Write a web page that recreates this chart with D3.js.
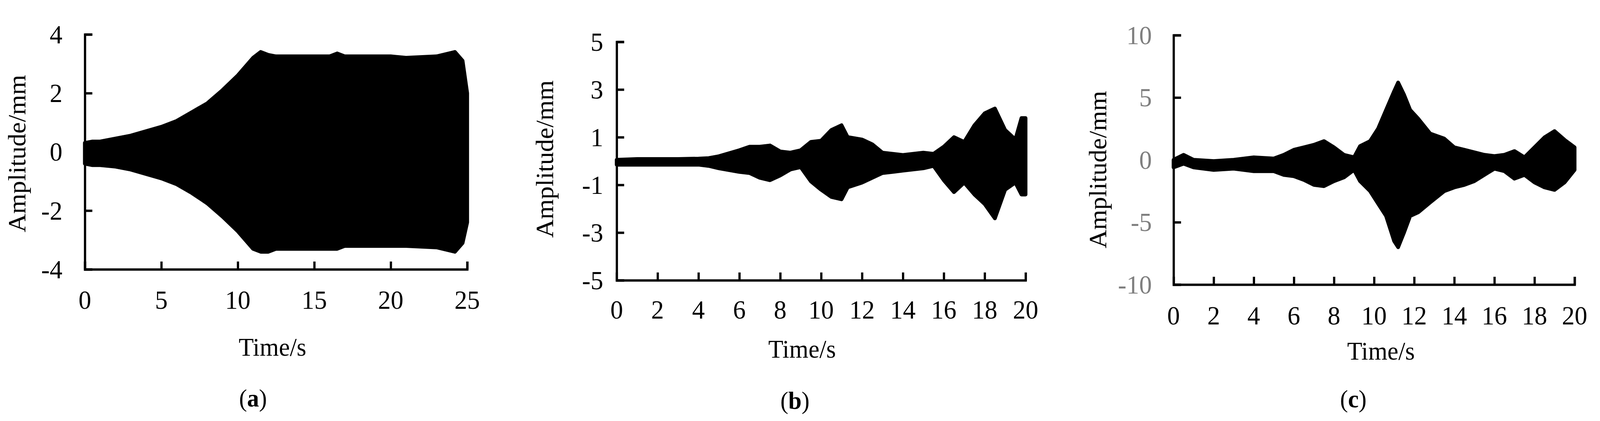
<!DOCTYPE html>
<html>
<head>
<meta charset="utf-8">
<script src="https://cdn.jsdelivr.net/npm/d3@7"></script>
<style>
  html, body { margin: 0; padding: 0; background: #fff; overflow: hidden; }
  svg { display: block; width: 100vw; height: 100vh; }
  text { font-family: "Liberation Serif", "Times New Roman", serif; }
</style>
</head>
<body>
<script>
// envelope of the displacement signal: [time, upper, lower]
const envA = [
  [0, 0.3, -0.4], [0.5, 0.35, -0.45], [1, 0.35, -0.45], [2, 0.45, -0.5], [3, 0.55, -0.6],
  [4, 0.7, -0.75], [5, 0.85, -0.9], [6, 1.05, -1.1], [7, 1.35, -1.4], [8, 1.65, -1.75],
  [9, 2.1, -2.2], [10, 2.6, -2.7], [10.5, 2.9, -3.0], [11, 3.2, -3.3], [11.5, 3.4, -3.4],
  [12, 3.3, -3.4], [12.5, 3.25, -3.3], [16, 3.25, -3.3], [16.5, 3.35, -3.3], [17, 3.25, -3.2],
  [20, 3.25, -3.2], [21, 3.2, -3.2], [23, 3.25, -3.25], [24.2, 3.4, -3.4], [24.7, 3.1, -3.1],
  [25, 2.0, -2.4]
];
const envB = [
  [0, 0.05, -0.15], [1, 0.08, -0.15], [2, 0.08, -0.15], [3, 0.08, -0.15], [4, 0.1, -0.15],
  [4.5, 0.12, -0.2], [5, 0.2, -0.3], [6, 0.45, -0.45], [6.5, 0.6, -0.5], [7, 0.6, -0.7],
  [7.5, 0.65, -0.8], [8, 0.4, -0.6], [8.5, 0.35, -0.35], [9, 0.45, -0.25], [9.5, 0.8, -0.85],
  [10, 0.85, -1.2], [10.5, 1.3, -1.5], [11, 1.5, -1.6], [11.3, 1.0, -1.1], [12, 0.9, -0.9],
  [12.5, 0.7, -0.7], [13, 0.35, -0.5], [14, 0.25, -0.4], [15, 0.35, -0.3], [15.5, 0.3, -0.2],
  [16, 0.6, -0.8], [16.5, 1.0, -1.3], [17, 0.8, -0.9], [17.5, 1.5, -1.4], [18, 2.0, -1.8],
  [18.5, 2.2, -2.4], [19, 1.3, -1.2], [19.5, 0.9, -0.9], [19.8, 1.8, -1.4], [20, 1.8, -1.4]
];
const envC = [
  [0, 0, -0.6], [0.5, 0.4, -0.3], [1, 0, -0.6], [2, -0.1, -0.8], [3, 0, -0.7], [4, 0.2, -0.9],
  [5, 0.1, -0.9], [5.5, 0.4, -1.2], [6, 0.8, -1.3], [6.5, 1.0, -1.6], [7, 1.2, -2.0],
  [7.5, 1.5, -2.1], [8, 1.0, -1.7], [8.5, 0.4, -1.4], [9, 0.2, -0.8], [9.3, 1.1, -1.7],
  [9.8, 1.5, -2.5], [10.2, 2.5, -3.5], [10.6, 4.0, -4.5], [11, 5.5, -6.5], [11.2, 6.2, -7.0],
  [11.5, 5.2, -5.8], [11.8, 4.0, -4.5], [12.2, 3.3, -4.2], [12.8, 2.1, -3.4], [13.5, 1.7, -2.5],
  [14, 1.0, -2.2], [14.5, 0.8, -2.0], [15, 0.6, -1.7], [15.5, 0.4, -1.2], [16, 0.3, -0.7],
  [16.5, 0.4, -0.9], [17, 0.7, -1.5], [17.5, 0.2, -1.2], [18, 1.0, -1.8], [18.5, 1.8, -2.2],
  [19, 2.3, -2.4], [19.5, 1.6, -1.8], [20, 1.0, -0.8]
];
const xTicksA = [0, 5, 10, 15, 20, 25];
const yTicksA = [-4, -2, 0, 2, 4];
const xTicksB = [0, 2, 4, 6, 8, 10, 12, 14, 16, 18, 20];
const yTicksB = [-5, -3, -1, 1, 3, 5];
const yTicksC = [-10, -5, 0, 5, 10];

const svg = d3.select('body').append('svg')
  .attr('viewBox', '0 0 4281 1077')
  .attr('preserveAspectRatio', 'none');

const panels = [
  { env: envA, xd: [0, 25], yd: [-4, 4], xt: xTicksA, yt: yTicksA, x0: 227, x1: 1250, y0: 88, y1: 689,
    tickY: 790, ygap: 60, titleX: 729, titleY: 910, ytx: 46, yty: 393, lab: 'a', labX: 677, labY: 1040, yColor: '#000' },
  { env: envB, xd: [0, 20], yd: [-5, 5], xt: xTicksB, yt: yTicksB, x0: 1650, x1: 2744, y0: 107, y1: 717,
    tickY: 815, ygap: 36, titleX: 2146, titleY: 915, ytx: 1458, yty: 407, lab: 'b', labX: 2127, labY: 1046, yColor: '#000' },
  { env: envC, xd: [0, 20], yd: [-10, 10], xt: xTicksB, yt: yTicksC, x0: 3140, x1: 4213, y0: 90, y1: 728,
    tickY: 830, ygap: 58, titleX: 3695, titleY: 920, ytx: 2938, yty: 434, lab: 'c', labX: 3621, labY: 1042, yColor: '#7f7f7f' }
];

panels.forEach(p => {
  const x = d3.scaleLinear().domain(p.xd).range([p.x0, p.x1]);
  const y = d3.scaleLinear().domain(p.yd).range([p.y1, p.y0]);
  const g = svg.append('g');

  // signal envelope (dense oscillation drawn as a filled band)
  const area = d3.area()
    .x(d => x(d[0]))
    .y0(d => y(d[2]))
    .y1(d => y(d[1]))
    .curve(d3.curveLinear);
  g.append('path')
    .datum(p.env)
    .attr('d', area)
    .attr('fill', '#000')
    .attr('stroke', '#000')
    .attr('stroke-width', 10)
    .attr('stroke-linejoin', 'round');

  // axes, ticks pointing inward
  const xAxis = g.append('g')
    .attr('transform', `translate(0,${p.y1})`)
    .call(d3.axisTop(x).tickValues(p.xt).tickSize(20).tickFormat(''));
  const yAxis = g.append('g')
    .attr('transform', `translate(${p.x0},0)`)
    .call(d3.axisRight(y).tickValues(p.yt).tickSize(20).tickFormat(''));
  [xAxis, yAxis].forEach(a => {
    a.select('.domain').attr('stroke', '#000').attr('stroke-width', 6);
    a.selectAll('.tick line').attr('stroke', '#000').attr('stroke-width', 6);
  });

  g.selectAll('.xlab')
    .data(p.xt)
    .enter().append('text')
    .attr('x', d => x(d))
    .attr('y', p.tickY)
    .attr('text-anchor', 'middle')
    .attr('font-size', 68)
    .text(d => d);

  g.selectAll('.ylab')
    .data(p.yt)
    .enter().append('text')
    .attr('x', p.x0 - p.ygap)
    .attr('y', d => y(d) + 23)
    .attr('text-anchor', 'end')
    .attr('font-size', 68)
    .attr('fill', p.yColor)
    .text(d => d);

  g.append('text')
    .attr('x', p.titleX)
    .attr('y', p.titleY)
    .attr('text-anchor', 'middle')
    .attr('font-size', 66)
    .text('Time/s');

  g.append('text')
    .attr('transform', `translate(${p.ytx + 22},${p.yty}) rotate(-90)`)
    .attr('text-anchor', 'middle')
    .attr('font-size', 66)
    .text('Amplitude/mm');

  const lab = g.append('text')
    .attr('x', p.labX)
    .attr('y', p.labY)
    .attr('text-anchor', 'middle')
    .attr('font-size', 64);
  lab.append('tspan').text('(');
  lab.append('tspan').attr('font-weight', 'bold').text(p.lab);
  lab.append('tspan').text(')');
});
</script>
</body>
</html>
